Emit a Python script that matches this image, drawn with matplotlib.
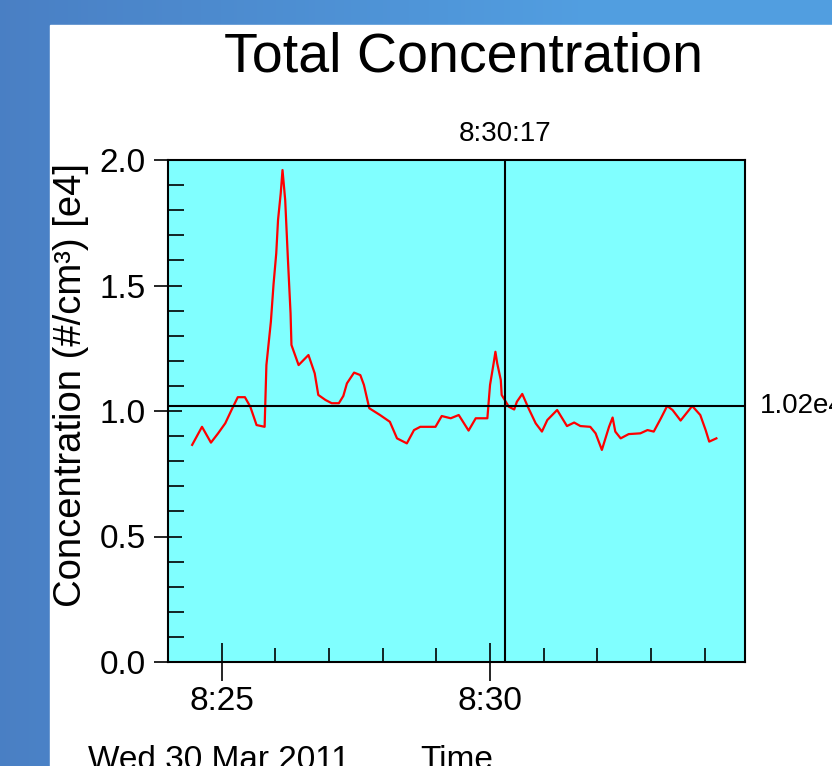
import numpy as np
import pandas as pd
import matplotlib
matplotlib.use('Agg')
import matplotlib.pyplot as plt
import matplotlib.dates as mdates
from matplotlib.patches import Rectangle

plt.rcParams['font.family'] = ['Liberation Sans', 'DejaVu Sans']

day = '2011-03-30'
times = ['8:24:27', '8:24:38', '8:24:48', '8:24:56', '8:25:04', '8:25:11', '8:25:18',
         '8:25:26', '8:25:32', '8:25:39', '8:25:48', '8:25:50', '8:25:55', '8:25:58',
         '8:26:01', '8:26:03', '8:26:06', '8:26:08', '8:26:11', '8:26:14', '8:26:17',
         '8:26:18', '8:26:26', '8:26:37', '8:26:44', '8:26:48', '8:26:56', '8:27:03',
         '8:27:11', '8:27:16', '8:27:20', '8:27:28', '8:27:35', '8:27:39', '8:27:45',
         '8:27:57', '8:28:08', '8:28:16', '8:28:27', '8:28:35', '8:28:42', '8:28:59',
         '8:29:06', '8:29:16', '8:29:25', '8:29:36', '8:29:44', '8:29:57', '8:30:00',
         '8:30:04', '8:30:06', '8:30:08', '8:30:12', '8:30:13', '8:30:21', '8:30:27',
         '8:30:30', '8:30:36', '8:30:43', '8:30:51', '8:30:58', '8:31:04', '8:31:15',
         '8:31:26', '8:31:34', '8:31:41', '8:31:52', '8:31:58', '8:32:05', '8:32:13',
         '8:32:17', '8:32:20', '8:32:26', '8:32:35', '8:32:48', '8:32:56', '8:33:03',
         '8:33:11', '8:33:18', '8:33:24', '8:33:33', '8:33:46', '8:33:55', '8:34:01',
         '8:34:05', '8:34:13']
conc = [0.865, 0.937, 0.874, 0.911, 0.951, 1.004, 1.055,
        1.055, 1.017, 0.944, 0.937, 1.183, 1.356, 1.506,
        1.628, 1.761, 1.867, 1.960, 1.841, 1.608, 1.389,
        1.263, 1.183, 1.223, 1.150, 1.064, 1.044, 1.031,
        1.031, 1.060, 1.110, 1.153, 1.143, 1.104, 1.011,
        0.984, 0.957, 0.891, 0.871, 0.924, 0.937, 0.937,
        0.980, 0.971, 0.984, 0.922, 0.971, 0.971, 1.104,
        1.190, 1.236, 1.190, 1.124, 1.064, 1.017, 1.006,
        1.037, 1.068, 1.011, 0.951, 0.918, 0.964, 1.004,
        0.940, 0.954, 0.940, 0.937, 0.911, 0.845, 0.937,
        0.974, 0.918, 0.891, 0.908, 0.911, 0.924, 0.918,
        0.971, 1.020, 1.004, 0.962, 1.020, 0.984, 0.924,
        0.878, 0.891]

cursor_time = '8:30:17'
cursor_value = 1.02
x_start, x_end = '8:24:00', '8:34:45'


def stamp(t):
    return pd.to_datetime(day + ' ' + t)


t = pd.to_datetime([day + ' ' + s for s in times])

fig = plt.figure(figsize=(8.32, 7.66), dpi=100)

# blue backdrop with a white panel
bg = fig.add_axes([0, 0, 1, 1])
grad = np.linspace(0, 1, 256)
c0 = np.array([0.29, 0.50, 0.77])
c1 = np.array([0.32, 0.62, 0.88])
w = np.clip(grad / 0.7, 0, 1)[:, None]
row = c0 * (1 - w) + c1 * w
bg.imshow(row[None, :, :], aspect='auto', extent=[0, 1, 0, 1])
bg.add_patch(Rectangle((50 / 832, 0), 1, (766 - 25) / 766, color='white'))
bg.set_xlim(0, 1)
bg.set_ylim(0, 1)
bg.axis('off')

ax = fig.add_axes([168 / 832, 104 / 766, 577 / 832, 502 / 766])
ax.set_facecolor('#80ffff')
ax.plot(t, conc, color='#ff0000', lw=1.6, zorder=3)

# cursor crosshair
ax.axvline(stamp(cursor_time), color='black', lw=1.5, zorder=4)
ax.axhline(cursor_value, color='black', lw=1.5, zorder=4)

ax.set_xlim(stamp(x_start), stamp(x_end))
ax.set_ylim(0, 2.0)

ax.yaxis.set_major_locator(plt.MultipleLocator(0.5))
ax.yaxis.set_minor_locator(plt.MultipleLocator(0.1))
ax.yaxis.set_major_formatter(plt.FormatStrFormatter('%.1f'))
ax.xaxis.set_major_locator(mdates.MinuteLocator(byminute=range(0, 60, 5)))
ax.xaxis.set_minor_locator(mdates.MinuteLocator())
ax.xaxis.set_major_formatter(plt.FuncFormatter(
    lambda v, p: '%d:%02d' % (mdates.num2date(v).hour, mdates.num2date(v).minute)))

for s in ax.spines.values():
    s.set_linewidth(1.5)
ax.tick_params(axis='y', which='major', direction='inout', length=20, width=1.2,
               labelsize=24, pad=6)
ax.tick_params(axis='y', which='minor', direction='in', length=11.5, width=1.2)
ax.tick_params(axis='x', which='major', direction='inout', length=28, width=1.2,
               labelsize=24, pad=3)
ax.tick_params(axis='x', which='minor', direction='in', length=10, width=1.2)

fig.text(464 / 832, 1 - 57 / 766, 'Total Concentration', fontsize=40,
         ha='center', va='center')
fig.text(71 / 832, 1 - 385 / 766, 'Concentration (#/cm³) [e4]', fontsize=27.5,
         rotation=90, ha='center', va='center')

ax.annotate(cursor_time, xy=(stamp(cursor_time), 1), xycoords=('data', 'axes fraction'),
            xytext=(0, 19), textcoords='offset points', ha='center', va='center',
            fontsize=20)
ax.annotate('%.2fe4' % cursor_value, xy=(1, cursor_value), xycoords=('axes fraction', 'data'),
            xytext=(11, 0), textcoords='offset points', ha='left', va='center',
            fontsize=20, annotation_clip=False)

fig.text(88 / 832, 1 - 745 / 766, 'Wed 30 Mar 2011', fontsize=24, ha='left', va='top')
fig.text(420 / 832, 1 - 745 / 766, 'Time', fontsize=24, ha='left', va='top')

fig.savefig('out.png', dpi=100)
